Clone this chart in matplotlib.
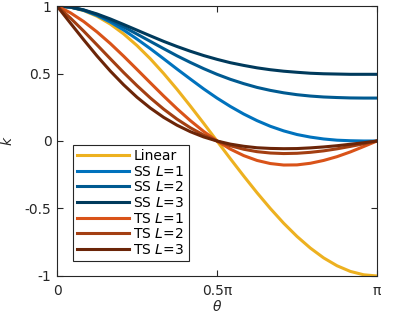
import numpy as np
import matplotlib
matplotlib.use("Agg")
import matplotlib.pyplot as plt

# theta in units of pi (steps of 1/24), k values
theta = np.arange(25) / 24

linear = [1, 0.991, 0.966, 0.924, 0.866, 0.793, 0.707, 0.609, 0.5, 0.383, 0.259, 0.131, 0,
          -0.131, -0.259, -0.383, -0.5, -0.609, -0.707, -0.793, -0.866, -0.924, -0.966, -0.991, -1]
ss1 = [1, 0.992, 0.968, 0.930, 0.881, 0.822, 0.755, 0.684, 0.609, 0.533, 0.459, 0.386, 0.318,
       0.256, 0.200, 0.151, 0.109, 0.075, 0.048, 0.029, 0.015, 0.006, 0.002, 0.000, 0]
ss2 = [1, 0.992, 0.970, 0.936, 0.893, 0.845, 0.792, 0.738, 0.684, 0.631, 0.582, 0.536, 0.494,
       0.457, 0.425, 0.397, 0.375, 0.357, 0.343, 0.333, 0.326, 0.322, 0.319, 0.318, 0.318]
ss3 = [1, 0.992, 0.971, 0.941, 0.904, 0.863, 0.821, 0.779, 0.738, 0.700, 0.665, 0.633, 0.605,
       0.580, 0.560, 0.542, 0.528, 0.517, 0.509, 0.502, 0.498, 0.496, 0.494, 0.494, 0.494]
ts1 = [1, 0.950, 0.885, 0.808, 0.722, 0.628, 0.530, 0.431, 0.333, 0.239, 0.151, 0.071, 0,
       -0.060, -0.108, -0.144, -0.167, -0.178, -0.177, -0.165, -0.144, -0.116, -0.081, -0.041, 0]
ts2 = [1, 0.911, 0.814, 0.712, 0.609, 0.507, 0.410, 0.319, 0.236, 0.162, 0.098, 0.044, 0,
       -0.035, -0.061, -0.079, -0.089, -0.093, -0.091, -0.084, -0.073, -0.058, -0.040, -0.021, 0]
ts3 = [1, 0.874, 0.750, 0.630, 0.518, 0.416, 0.324, 0.244, 0.175, 0.117, 0.069, 0.030, 0,
       -0.023, -0.039, -0.050, -0.055, -0.057, -0.056, -0.051, -0.044, -0.035, -0.024, -0.013, 0]

labels = ['Linear', 'SS $\\mathit{L}$=1', 'SS $\\mathit{L}$=2', 'SS $\\mathit{L}$=3',
          'TS $\\mathit{L}$=1', 'TS $\\mathit{L}$=2', 'TS $\\mathit{L}$=3']
colors = ['#EDB120', '#0072BD', '#005A91', '#003A5C', '#D95319', '#A33F12', '#6B2508']
series = [linear, ss1, ss2, ss3, ts1, ts2, ts3]

axcol = '#262626'
plt.rcParams['font.family'] = ['DejaVu Sans']
plt.rcParams['mathtext.fontset'] = 'dejavusans'

fig = plt.figure(figsize=(4.14, 3.16), dpi=100)
ax = fig.add_axes([0.1377, 0.1266, 0.7729, 0.8544])

for y, c, lab in zip(series, colors, labels):
    ax.plot(theta * np.pi, y, color=c, lw=2.2, label=lab)

ax.set_xlim(0, np.pi)
ax.set_ylim(-1, 1)
ax.set_xticks([0, 0.5 * np.pi, np.pi])
ax.set_xticklabels(['0', '0.5π', 'π'])
ax.set_yticks([-1, -0.5, 0, 0.5, 1])
ax.set_yticklabels(['-1', '-0.5', '0', '0.5', '1'])
ax.tick_params(direction='in', length=4, width=0.8, colors=axcol, labelsize=10,
               top=True, right=True)
ax.tick_params(axis='x', pad=6)
ax.tick_params(axis='y', pad=4)
for s in ax.spines.values():
    s.set_color(axcol)
    s.set_linewidth(0.8)

ax.set_xlabel('θ', style='italic', color=axcol, fontsize=10, labelpad=1)
ax.set_ylabel('k', style='italic', color=axcol, fontsize=10, labelpad=7)

leg = ax.legend(loc='lower left', bbox_to_anchor=(0.05, 0.055), borderaxespad=0,
                fontsize=10, handlelength=3.75, handletextpad=0.3, labelspacing=0.12,
                fancybox=False, framealpha=1, edgecolor=axcol, borderpad=0.3)
leg.get_frame().set_linewidth(0.8)
for t in leg.get_texts():
    t.set_color('black')

fig.savefig('out.png', dpi=100)
